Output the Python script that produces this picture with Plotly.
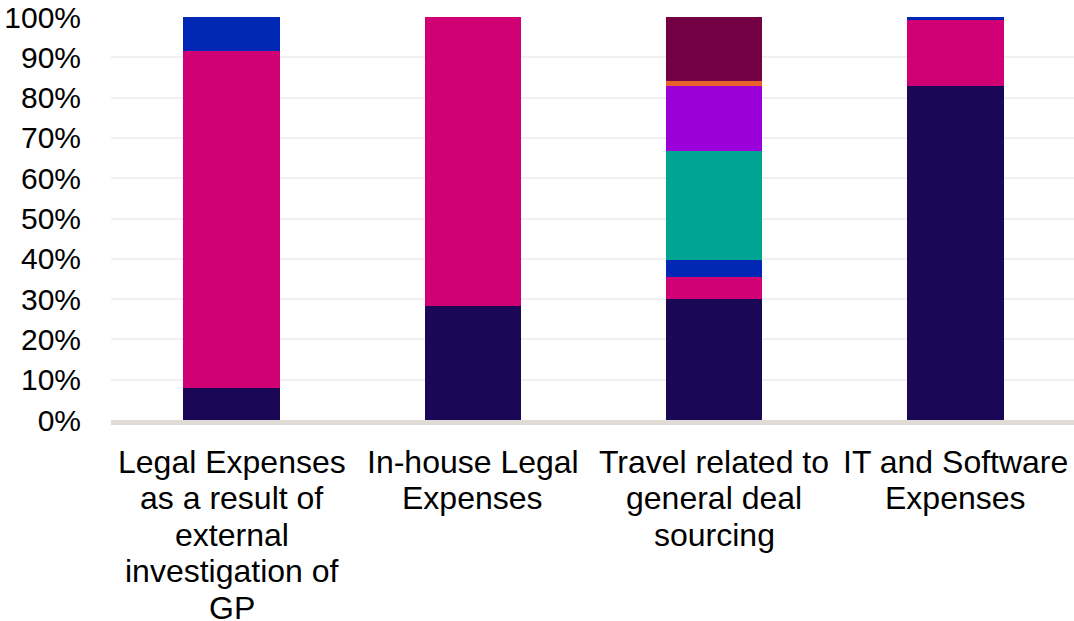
import plotly.graph_objects as go

categories = [
    "Legal Expenses<br>as a result of<br>external<br>investigation of<br>GP",
    "In-house Legal<br>Expenses",
    "Travel related to<br>general deal<br>sourcing",
    "IT and Software<br>Expenses",
]
series_names = ["Series 1", "Series 2", "Series 3", "Series 4", "Series 5", "Series 6", "Series 7"]
s1 = [8.0, 28.3, 30.0, 82.9]
s2 = [83.6, 71.7, 5.6, 16.4]
s3 = [8.4, 0.0, 4.2, 0.7]
s4 = [0.0, 0.0, 26.9, 0.0]
s5 = [0.0, 0.0, 16.3, 0.0]
s6 = [0.0, 0.0, 1.1, 0.0]
s7 = [0.0, 0.0, 15.9, 0.0]
series_values = [s1, s2, s3, s4, s5, s6, s7]
colors = ["#1A0857", "#D10074", "#0028B4", "#00A493", "#9B00D9", "#E8622A", "#720042"]
y_ticks = [0, 10, 20, 30, 40, 50, 60, 70, 80, 90, 100]
y_tick_labels = [f"{v}%" for v in y_ticks]

FONT = "Liberation Sans, Arial, sans-serif"

fig = go.Figure()
for name, vals, col in zip(series_names, series_values, colors):
    fig.add_trace(go.Bar(
        x=categories, y=vals, name=name,
        marker=dict(color=col, line=dict(width=0)),
        hoverinfo="skip",
    ))

# category labels: one annotation per line so the line spacing matches
line_gap = 36.5
first_offset = 41.5
for cat in categories:
    for i, line in enumerate(cat.split("<br>")):
        fig.add_annotation(
            x=cat, xref="x", y=0, yref="paper",
            text=line, showarrow=False,
            xanchor="center", yanchor="middle",
            yshift=-(first_offset + i * line_gap),
            font=dict(family=FONT, size=32, color="#000000"),
        )

fig.update_layout(
    barmode="stack",
    bargap=0.6,
    width=1076, height=621,
    margin=dict(l=111, r=0, t=17, b=201),
    plot_bgcolor="white", paper_bgcolor="white",
    showlegend=False,
    hovermode=False,
    font=dict(family=FONT, size=30, color="#000000"),
)
fig.update_yaxes(
    range=[0, 100], tickvals=y_ticks, ticktext=y_tick_labels,
    showgrid=True, gridcolor="#F0F0F0", gridwidth=1.5,
    zeroline=False, showline=False, ticks="", ticklabelstandoff=29,
    tickfont=dict(size=30), automargin=False, ticklabeloverflow="allow",
)
fig.update_xaxes(
    showline=True, linecolor="#E0DBD5", linewidth=5,
    ticks="", showticklabels=False, automargin=False,
)

fig.write_html(
    "out.html",
    config={"displayModeBar": False},
    post_script="document.body.style.margin='0';",
)
